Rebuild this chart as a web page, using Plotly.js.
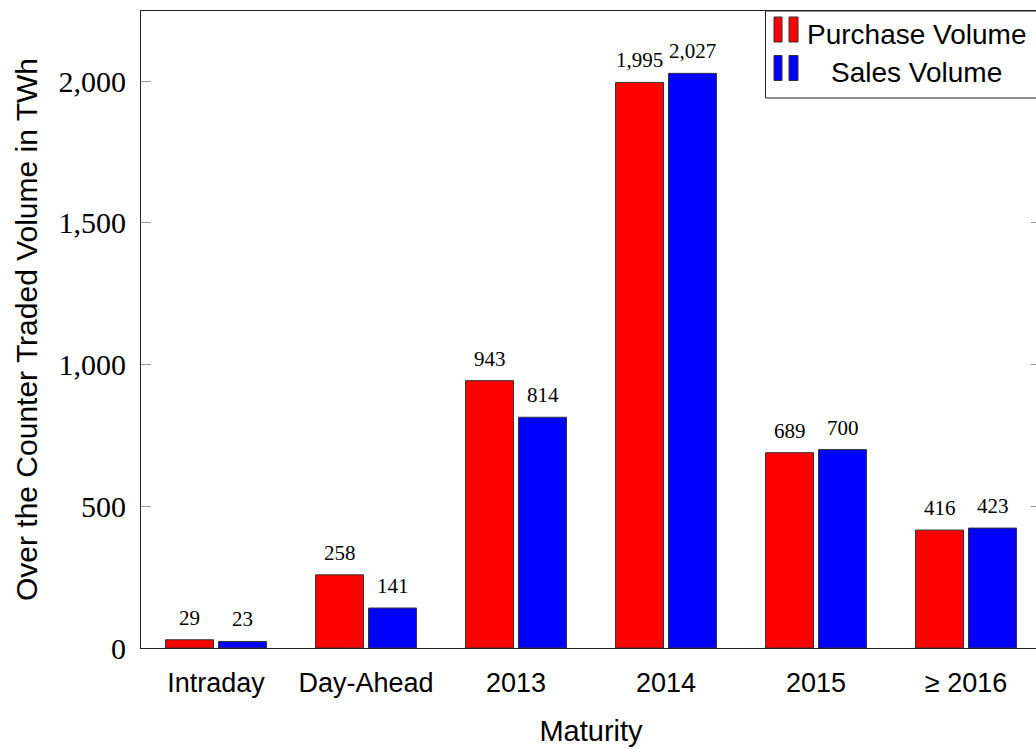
<!DOCTYPE html>
<html>
<head>
<meta charset="utf-8">
<script src="https://cdn.plot.ly/plotly-3.0.1.min.js"></script>
<style>
  html, body { margin: 0; padding: 0; overflow: hidden; background: #fff; }
  #chart { width: 1046px; height: 749px; }
</style>
</head>
<body>
<div id="chart"></div>
<script>
// ---- data ----
const categories = ["Intraday", "Day-Ahead", "2013", "2014", "2015", "\u2265 2016"];
const purchaseVolume = [29, 258, 943, 1995, 689, 416];
const salesVolume = [23, 141, 814, 2027, 700, 423];
const seriesNames = ["Purchase Volume", "Sales Volume"];
const yTickValues = [0, 500, 1000, 1500, 2000];

// ---- style ----
const RED = "#ff0000", BLUE = "#0000ff", OUTLINE = "#333333";
const SANS = "Liberation Sans, Arial, sans-serif";
const SERIF = "Liberation Serif, Times New Roman, serif";

// plot-area geometry (pixels) for paper conversions of the legend
const PL = 141, PW = 900, PT = 11, PB = 648, PH = PB - PT;
const fx = px => (px - PL) / PW;
const fy = py => (PB - py) / PH;

const barWidth = 0.32;
const traces = [
  {
    type: "bar", name: seriesNames[0], x: categories, y: purchaseVolume,
    width: barWidth, offset: -0.3367,
    marker: { color: RED, line: { color: OUTLINE, width: 1 } },
    hoverinfo: "x+y"
  },
  {
    type: "bar", name: seriesNames[1], x: categories, y: salesVolume,
    width: barWidth, offset: 0.0167,
    marker: { color: BLUE, line: { color: OUTLINE, width: 1 } },
    hoverinfo: "x+y"
  }
];

// value labels above the bars (x given as category index)
const annotations = [];
const fmt = v => v.toLocaleString("en-US");
categories.forEach((c, i) => {
  [[purchaseVolume, -26.5], [salesVolume, 26.5]].forEach(([arr, dx]) => {
    annotations.push({
      x: i, y: arr[i], xref: "x", yref: "y",
      text: fmt(arr[i]), showarrow: false,
      xanchor: "center", yanchor: "bottom",
      xshift: dx, yshift: 8,
      font: { family: SERIF, size: 21, color: "#000" }
    });
  });
});

// manual legend (centered text, double-bar symbols like pgfplots)
const legendRows = [
  { name: seriesNames[0], color: RED, top: 17 },
  { name: seriesNames[1], color: BLUE, top: 55.5 }
];
const shapes = [
  {
    type: "rect", xref: "paper", yref: "paper",
    x0: fx(765.5), x1: fx(1052), y0: fy(98), y1: fy(11),
    line: { color: "#222", width: 1 }, fillcolor: "#fff", layer: "above"
  }
];
legendRows.forEach(r => {
  [[774, 782], [789, 798]].forEach(([a, b]) => {
    shapes.push({
      type: "rect", xref: "paper", yref: "paper",
      x0: fx(a), x1: fx(b), y0: fy(r.top + 25), y1: fy(r.top),
      line: { color: OUTLINE, width: 1 }, fillcolor: r.color, layer: "above"
    });
  });
  annotations.push({
    xref: "paper", yref: "paper", x: fx(916), y: fy(r.top + 17),
    text: r.name, showarrow: false, xanchor: "center", yanchor: "middle",
    font: { family: SANS, size: 28, color: "#000" }
  });
});

const layout = {
  width: 1046, height: 749,
  margin: { l: PL, r: 1046 - PL - PW, t: PT, b: 749 - PB },
  paper_bgcolor: "#fff", plot_bgcolor: "#fff",
  showlegend: false,
  barmode: "overlay",
  xaxis: {
    type: "category",
    range: [-0.5, 5.5],
    showline: true, mirror: true, linecolor: "#222", linewidth: 1,
    ticks: "", showgrid: false, zeroline: false,
    tickfont: { family: SANS, size: 27, color: "#000" },
    ticklabelstandoff: 11,
    title: { text: "Maturity", font: { family: SANS, size: 29, color: "#000" }, standoff: 23 },
    automargin: false, fixedrange: true
  },
  yaxis: {
    range: [0, 2247],
    tickvals: yTickValues,
    ticktext: yTickValues.map(fmt),
    showline: true, mirror: "ticks", linecolor: "#222", linewidth: 1,
    ticks: "inside", ticklen: 10, tickcolor: "#999", tickwidth: 1,
    showgrid: false, zeroline: false,
    tickfont: { family: SERIF, size: 30, color: "#000" },
    ticklabelstandoff: 8,
    title: { text: "Over the Counter Traded Volume in TWh", font: { family: SANS, size: 30, color: "#000" }, standoff: 12 },
    automargin: false, fixedrange: true
  },
  annotations: annotations,
  shapes: shapes
};

Plotly.newPlot("chart", traces, layout, { displayModeBar: false, staticPlot: true });
</script>
</body>
</html>
